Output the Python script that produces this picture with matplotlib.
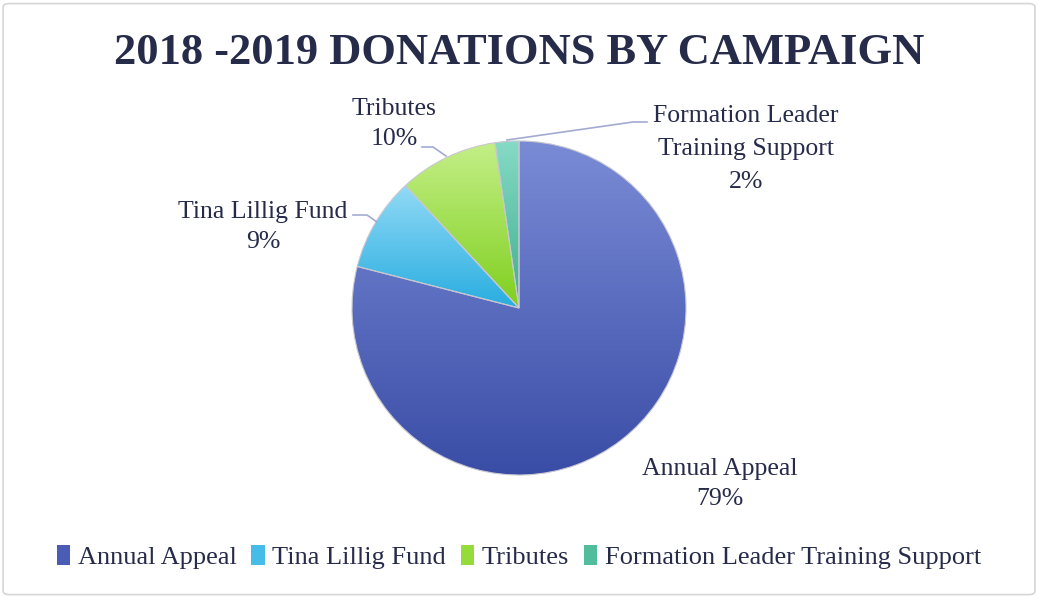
import numpy as np
import matplotlib
matplotlib.use('Agg')
import matplotlib.pyplot as plt
from matplotlib.colors import LinearSegmentedColormap
from matplotlib.patches import Patch, FancyBboxPatch

# campaign shares (percent)
categories = ['Annual Appeal', 'Tina Lillig Fund', 'Tributes', 'Formation Leader Training Support']
values = [79.0, 9.1, 9.6, 2.3]
pct_labels = ['79%', '9%', '10%', '2%']
top_colors = ['#7a8bd6', '#92daf6', '#c4ef88', '#86dac6']
bottom_colors = ['#3a4da6', '#27ade0', '#7fcf1e', '#3fae8e']
legend_colors = ['#4a5cb4', '#45bde8', '#95dc3a', '#52bd9c']

TEXT = '#262b4a'
LINE = '#a3aad2'
FONT = 'Liberation Serif'

W, H = 1038, 597
fig = plt.figure(figsize=(W / 100, H / 100), dpi=100)
ax = fig.add_axes([0, 0, 1, 1])

# outer frame
fig.patches.append(FancyBboxPatch((0.003, 0.004), 0.994, 0.99, boxstyle='round,pad=0,rounding_size=0.006',
                                  transform=fig.transFigure, facecolor='none', edgecolor='#d6d6d6', lw=1.2))

cx, cy, r = 519, H - 308, 167

# pie order: Formation, Tributes, Tina counter-clockwise from the top, Annual the rest
order = [3, 2, 1, 0]
wedges, _ = ax.pie([values[i] for i in order], center=(cx, cy), radius=r, startangle=90,
                   counterclock=True, frame=True,
                   wedgeprops=dict(edgecolor='#c8c8d0', linewidth=0.8, facecolor='none'))

grad = np.linspace(0, 1, 256).reshape(-1, 1)
for w, i in zip(wedges, order):
    cmap = LinearSegmentedColormap.from_list('g%d' % i, [bottom_colors[i], top_colors[i]])
    bb = w.get_path().get_extents()
    im = ax.imshow(grad, cmap=cmap, origin='lower', aspect='auto',
                   extent=[bb.x0, bb.x1, bb.y0, bb.y1], zorder=1, interpolation='bilinear')
    im.set_clip_path(w)
    w.set_zorder(2)

ax.set_xlim(0, W)
ax.set_ylim(0, H)
ax.set_aspect('equal')
ax.axis('off')

# title
ax.text(W / 2, H - 53, '2018 -2019 DONATIONS BY CAMPAIGN', ha='center', va='center',
        fontsize=32, fontweight='bold', color=TEXT, family=FONT)

# data labels with leader lines
lbl = dict(ha='center', va='center', fontsize=18.5, color=TEXT, family=FONT, linespacing=1.5)
ax.text(394, H - 124, 'Tributes\n' + pct_labels[2], **lbl)
ax.plot([422, 433, 446], [H - 147, H - 147, H - 156], color=LINE, lw=1.2)
ax.text(263, H - 227, 'Tina Lillig Fund\n' + pct_labels[1], **lbl)
ax.plot([353, 367, 377], [H - 215, H - 215, H - 222], color=LINE, lw=1.2)
ax.text(746, H - 149, 'Formation Leader\nTraining Support\n' + pct_labels[3],
        **dict(lbl, linespacing=1.62))
ax.plot([647, 633, 507], [H - 122, H - 122, H - 140], color=LINE, lw=1.2)
ax.text(720, H - 484, 'Annual Appeal\n' + pct_labels[0], **lbl)

handles = [Patch(facecolor=c, edgecolor='none') for c in legend_colors]
leg = ax.legend(handles, categories, loc='center', bbox_to_anchor=(0.5, 1 - 557 / H), ncol=4,
                frameon=False, handlelength=0.5, handleheight=0.8, handletextpad=0.3,
                columnspacing=0.55, prop=dict(family=FONT, size=19))
for t in leg.get_texts():
    t.set_color(TEXT)

fig.savefig('out.png', dpi=100)
